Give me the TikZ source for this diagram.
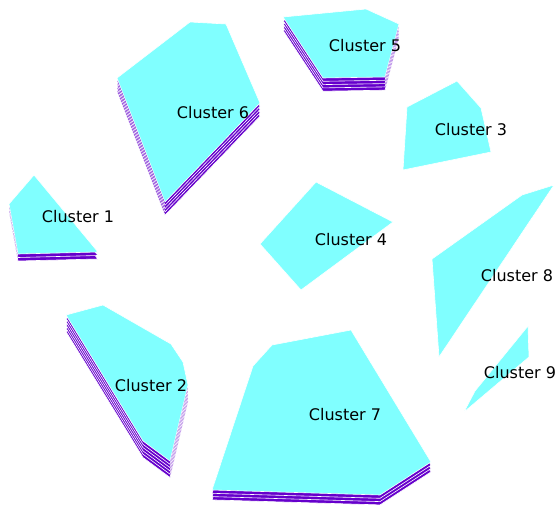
\documentclass[tikz,border=0pt]{standalone}
\usepackage{fontspec}
\setmainfont{DejaVu Sans}
\usetikzlibrary{calc}
\definecolor{clfill}{RGB}{128,255,255}
\definecolor{clstack}{RGB}{102,0,204}
\tikzset{
  layer/.style={fill=clstack,draw=white,line width=0.6pt,line join=round},
  toplayer/.style={fill=clfill,draw=white,line width=0.6pt,line join=round},
  lbl/.style={font=\fontsize{16}{19}\selectfont,inner sep=0pt}
}

\begin{document}
\begin{tikzpicture}[x=1pt,y=-1pt]
      \useasboundingbox (0,0) rectangle (557,506);
      % cluster 6
      \foreach \k in {4,3,2,1}
        \filldraw[layer,yshift={-3.3pt*\k}] (117,78) -- (190,22) -- (226,24) -- (260,103) -- (165,202) -- cycle;
      \filldraw[toplayer] (117,78) -- (190,22) -- (226,24) -- (260,103) -- (165,202) -- cycle;
      % cluster 5
      \foreach \k in {4,3,2,1}
        \filldraw[layer,yshift={-3.3pt*\k}] (283,17) -- (366,9) -- (399,24) -- (385,77) -- (323,78) -- cycle;
      \filldraw[toplayer] (283,17) -- (366,9) -- (399,24) -- (385,77) -- (323,78) -- cycle;
      % cluster 3
      \filldraw[toplayer] (407,107) -- (457,81) -- (481,108) -- (491,152) -- (403,170) -- cycle;
      % cluster 1
      \foreach \k in {2,1}
        \filldraw[layer,yshift={-3.5pt*\k}] (34,175) -- (98,252) -- (18,254) -- (9,204) -- cycle;
      \filldraw[toplayer] (34,175) -- (98,252) -- (18,254) -- (9,204) -- cycle;
      % cluster 4
      \filldraw[toplayer] (316,182) -- (393,222) -- (301,290) -- (260,244) -- cycle;
      % cluster 8
      \filldraw[toplayer] (432,259) -- (522,195) -- (554,185) -- (439,357) -- cycle;
      % cluster 9
      \filldraw[toplayer] (528,326) -- (529,357) -- (464,412) -- (475,391) -- cycle;
      % cluster 2
      \foreach \k in {5,4,3,2,1}
        \filldraw[layer,yshift={-3.3pt*\k}] (66,315) -- (103,305) -- (171,344) -- (183,362) -- (188,385) -- (170,461) -- (143,441) -- cycle;
      \filldraw[toplayer] (66,315) -- (103,305) -- (171,344) -- (183,362) -- (188,385) -- (170,461) -- (143,441) -- cycle;
      % cluster 7
      \foreach \k in {3,2,1}
        \filldraw[layer,yshift={-3.3pt*\k}] (212,490) -- (253,366) -- (272,345) -- (351,330) -- (431,462) -- (380,495) -- cycle;
      \filldraw[toplayer] (212,490) -- (253,366) -- (272,345) -- (351,330) -- (431,462) -- (380,495) -- cycle;
      % labels
      \node[lbl] (c1) at (78,217) {Cluster 1};
      \node[lbl] (c2) at (151,386) {Cluster 2};
      \node[lbl] (c3) at (471,130) {Cluster 3};
      \node[lbl] (c4) at (351,240) {Cluster 4};
      \node[lbl] (c5) at (365,46) {Cluster 5};
      \node[lbl] (c6) at (213,113) {Cluster 6};
      \node[lbl] (c7) at (345,415) {Cluster 7};
      \node[lbl] (c8) at (517,276) {Cluster 8};
      \node[lbl] (c9) at (520,373) {Cluster 9};
    \end{tikzpicture}
\end{document}
